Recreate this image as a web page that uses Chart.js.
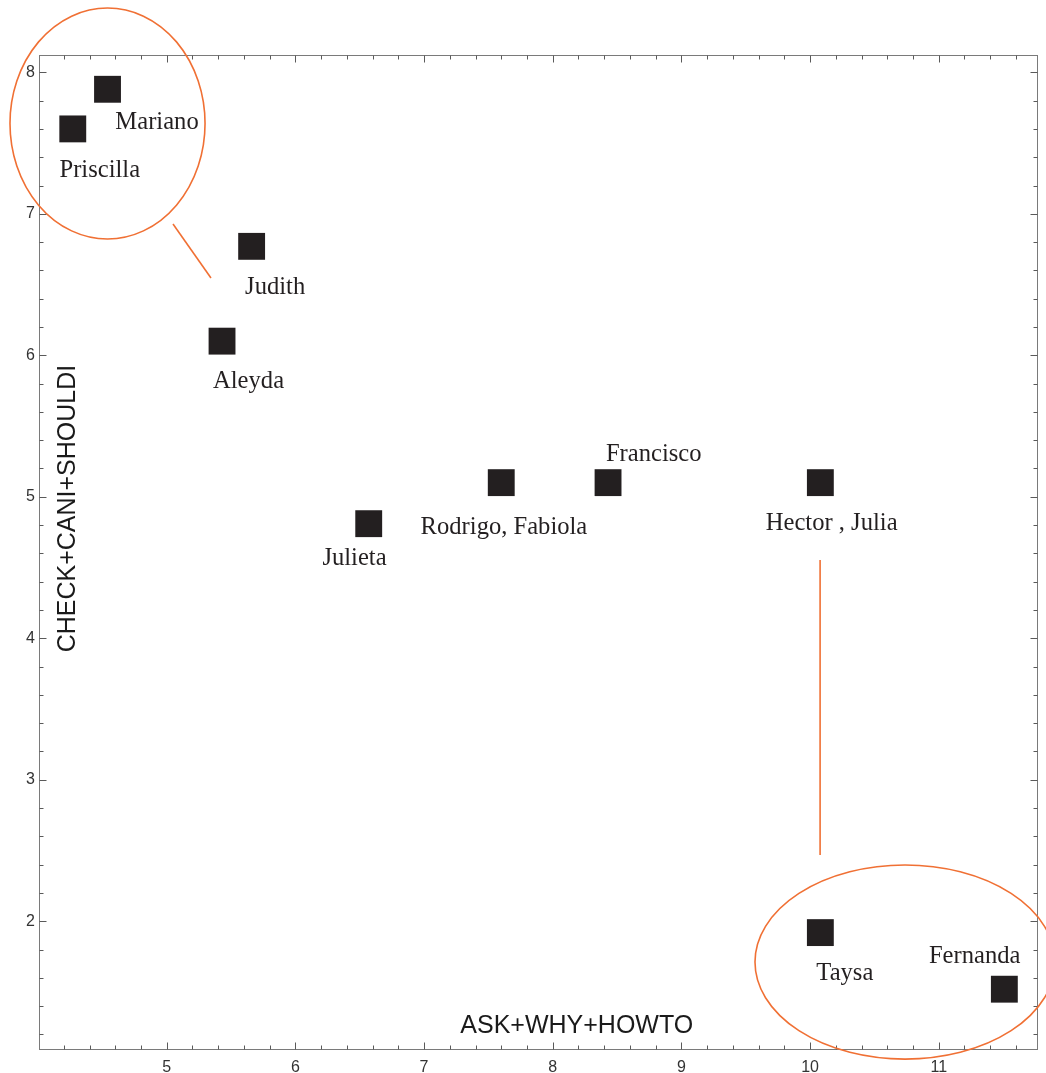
<!DOCTYPE html>
<html><head><meta charset="utf-8">
<script src="https://cdn.jsdelivr.net/npm/chart.js@4.4.0/dist/chart.umd.min.js"></script>
<style>html,body{margin:0;padding:0;background:#fff;overflow:hidden}</style>
</head><body>
<canvas id="c" width="1046" height="1073"></canvas>
<script>
// ---- data ----
const names = ["Mariano","Priscilla","Judith","Aleyda","Julieta","Rodrigo, Fabiola","Francisco","Hector , Julia","Taysa","Fernanda"];
const xValues = [4.54, 4.27, 5.66, 5.43, 6.57, 7.60, 8.43, 10.08, 10.08, 11.51];
const yValues = [7.88, 7.60, 6.77, 6.10, 4.81, 5.10, 5.10, 5.10, 1.92, 1.52];
const xTickLabels = [5, 6, 7, 8, 9, 10, 11];
const yTickLabels = [2, 3, 4, 5, 6, 7, 8];
const xTitle = "ASK+WHY+HOWTO";
const yTitle = "CHECK+CANI+SHOULDI";

// ---- annotation shapes (data units) ----
const ellipses = [
  {cx: 4.54, cy: 7.638, rx: 0.758, ry: 0.816},
  {cx: 10.738, cy: 1.712, rx: 1.166, ry: 0.686}
];
const connectors = [
  [5.049, 6.928, 5.344, 6.546],
  [10.078, 4.553, 10.078, 2.469]
];

// ---- label placement (pixel offsets from marker centre to text baseline centre) ----
const labelOffsets = [
  [49.5, 39.7], [27, 47.7], [23.5, 47.5], [26.5, 46.6], [-14.2, 41.7],
  [2.7, 51], [45.7, -21.6], [11.3, 47.4], [24.5, 47.7], [-29.7, -26.6]
];

const points = xValues.map((x, i) => ({x: x, y: yValues[i]}));
const ORANGE = 'rgb(240,112,52)';

const decor = {
  id: 'decor',
  afterDraw(chart) {
    const ctx = chart.ctx, a = chart.chartArea;
    const xs = chart.scales.x, ys = chart.scales.y;
    ctx.save();
    // frame
    const L = Math.round(a.left) + 0.5, R = Math.round(a.right) - 0.5;
    const T = Math.round(a.top) + 0.5, B = Math.round(a.bottom) - 0.5;
    ctx.strokeStyle = '#7a7a7a';
    ctx.lineWidth = 1;
    ctx.strokeRect(L, T, R - L, B - T);
    // inward ticks
    ctx.strokeStyle = '#5a5a5a';
    ctx.beginPath();
    const step = 0.2;
    for (let k = Math.ceil(xs.min / step - 1e-6); k * step <= xs.max + 1e-9; k++) {
      const v = k * step;
      const major = Math.abs(v - Math.round(v)) < 1e-6;
      const len = major ? 7 : 4;
      const px = Math.round(xs.getPixelForValue(v)) + 0.5;
      ctx.moveTo(px, B); ctx.lineTo(px, B - len);
      ctx.moveTo(px, T); ctx.lineTo(px, T + len);
    }
    for (let k = Math.ceil(ys.min / step - 1e-6); k * step <= ys.max + 1e-9; k++) {
      const v = k * step;
      const major = Math.abs(v - Math.round(v)) < 1e-6;
      const len = major ? 7 : 4;
      const py = Math.round(ys.getPixelForValue(v)) + 0.5;
      ctx.moveTo(L, py); ctx.lineTo(L + len, py);
      ctx.moveTo(R, py); ctx.lineTo(R - len, py);
    }
    ctx.stroke();

    // point labels
    const meta = chart.getDatasetMeta(0);
    ctx.fillStyle = '#231f20';
    ctx.font = '24.6px "Liberation Serif", "Times New Roman", serif';
    ctx.textAlign = 'center';
    ctx.textBaseline = 'alphabetic';
    meta.data.forEach((el, i) => {
      const o = labelOffsets[i];
      ctx.fillText(names[i], el.x + o[0], el.y + o[1]);
    });

    // axis titles (inside the frame)
    ctx.fillStyle = '#1a1a1a';
    ctx.font = '25px "Liberation Sans", Arial, sans-serif';
    ctx.textAlign = 'center';
    ctx.fillText(xTitle, xs.getPixelForValue(8.187), ys.getPixelForValue(1.21));
    ctx.save();
    ctx.translate(xs.getPixelForValue(4.288), ys.getPixelForValue(4.917));
    ctx.rotate(-Math.PI / 2);
    ctx.fillText(yTitle, 0, 0);
    ctx.restore();

    // orange annotations
    ctx.strokeStyle = ORANGE;
    ctx.lineWidth = 1.6;
    ellipses.forEach(e => {
      const cx = xs.getPixelForValue(e.cx), cy = ys.getPixelForValue(e.cy);
      const rx = Math.abs(xs.getPixelForValue(e.cx + e.rx) - cx);
      const ry = Math.abs(ys.getPixelForValue(e.cy + e.ry) - cy);
      ctx.beginPath();
      ctx.ellipse(cx, cy, rx, ry, 0, 0, Math.PI * 2);
      ctx.stroke();
    });
    connectors.forEach(c => {
      ctx.beginPath();
      ctx.moveTo(xs.getPixelForValue(c[0]), ys.getPixelForValue(c[1]));
      ctx.lineTo(xs.getPixelForValue(c[2]), ys.getPixelForValue(c[3]));
      ctx.stroke();
    });
    ctx.restore();
  }
};

new Chart(document.getElementById('c'), {
  type: 'scatter',
  data: {
    datasets: [{
      data: points,
      pointStyle: 'rect',
      pointRadius: 19,
      pointHoverRadius: 19,
      backgroundColor: '#231f20',
      borderColor: '#231f20',
      borderWidth: 0,
      clip: false
    }]
  },
  options: {
    responsive: false,
    animation: false,
    devicePixelRatio: 1,
    events: [],
    layout: {autoPadding: false, padding: {top: 55, right: 8, left: 0, bottom: 0}},
    plugins: {legend: {display: false}, tooltip: {enabled: false}, title: {display: false}},
    scales: {
      x: {
        type: 'linear',
        min: 4.0075,
        max: 11.7715,
        afterFit(s) { s.height = 23; s.paddingLeft = 0; s.paddingRight = 0; },
        afterBuildTicks(s) { s.ticks = xTickLabels.map(v => ({value: v})); },
        grid: {display: false, drawTicks: false},
        border: {display: false},
        ticks: {
          padding: 8,
          color: '#333',
          font: {family: '"Liberation Sans", Arial, sans-serif', size: 16},
          maxRotation: 0,
          autoSkip: false,
          callback: v => String(v)
        }
      },
      y: {
        type: 'linear',
        min: 1.0903,
        max: 8.1223,
        afterFit(s) { s.width = 39; s.paddingTop = 0; s.paddingBottom = 0; },
        afterBuildTicks(s) { s.ticks = yTickLabels.map(v => ({value: v})); },
        grid: {display: false, drawTicks: false},
        border: {display: false},
        ticks: {
          padding: 4,
          color: '#333',
          font: {family: '"Liberation Sans", Arial, sans-serif', size: 16},
          autoSkip: false,
          callback: v => String(v)
        }
      }
    }
  },
  plugins: [decor]
});
</script>
</body></html>
